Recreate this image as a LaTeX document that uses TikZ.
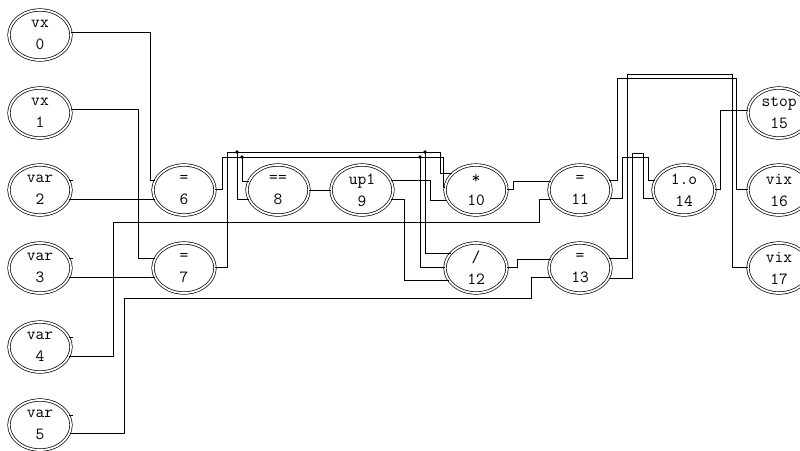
\documentclass[tikz,border=0pt]{standalone}
\usepackage{fontspec}
\usetikzlibrary{shapes.geometric,calc}
\begin{document}
\begin{tikzpicture}[x=1pt,y=-1pt,
  gnode/.style={ellipse, draw, line width=0.7pt, double, double distance=1.8pt,
    minimum width=62pt, minimum height=50pt, inner sep=0pt, align=center,
    font=\ttfamily\fontsize{17}{22}\selectfont},
  wire/.style={line width=0.75pt},
  jdot/.style={circle, fill, inner sep=0pt, minimum size=3.6pt}]
\useasboundingbox (0,0) rectangle (800,450);
% nodes
\node[gnode] (n0) at (40,35) {vx\\0};
\node[gnode] (n1) at (40,113) {vx\\1};
\node[gnode] (n2) at (40,190) {var\\2};
\node[gnode] (n3) at (40,268) {var\\3};
\node[gnode] (n4) at (40,347) {var\\4};
\node[gnode] (n5) at (40,425) {var\\5};
\node[gnode] (n6) at (184,190) {=\\6};
\node[gnode] (n7) at (184,268) {=\\7};
\node[gnode] (n8) at (278,190) {==\\8};
\node[gnode] (n9) at (362,190) {up1\\9};
\node[gnode] (n10) at (476,190) {*\\10};
\node[gnode] (n12) at (476,268) {/\\12};
\node[gnode] (n11) at (580,190) {=\\11};
\node[gnode] (n13) at (580,268) {=\\13};
\node[gnode] (n14) at (684,190) {1.o\\14};
\node[gnode] (n15) at (779,113) {stop\\15};
\node[gnode] (n16) at (779,190) {vix\\16};
\node[gnode] (n17) at (779,268) {vix\\17};
% stubs
\foreach \n in {n2,n3,n4,n5} \draw[wire] (\n.19) -- ++(4,0);
% wires
\draw[wire] (n0.4) -| (150,0 |- n6.161) -- (n6.161);
\draw[wire] (n1.6) -| (138,0 |- n7.161) -- (n7.161);
\draw[wire] (n2.-17) -- (n6.197);
\draw[wire] (n3.-17) -- (n7.197);
% bus A from node 6
\draw[wire] (n6.2) -| (222,157) -| (443,0 |- n10.176) -- (n10.176);
\coordinate (a1) at (242,157);
\coordinate (a2) at (420,157);
\draw[wire] (a1) |- (n8.163);
\draw[wire] (a2) |- (n12.178);
% bus B from node 7
\draw[wire] (n7.2) -| (227,152) -| (440,0 |- n10.146) -- (n10.146);
\coordinate (b1) at (237,152);
\coordinate (b2) at (425,152);
\draw[wire] (b1) |- (n8.197);
\draw[wire] (b2) |- (n12.149);
\node[jdot] (d1) at (a1) {};
\node[jdot] (d2) at (a2) {};
\node[jdot] (d3) at (b1) {};
\node[jdot] (d4) at (b2) {};
% middle
\draw[wire] (n8.0) -- (n9.180);
\draw[wire] (n9.19) -| (430,0 |- n10.199) -- (n10.199);
\draw[wire] (n9.-17) -| (404,0 |- n12.204) -- (n12.204);
\draw[wire] (n10.2) -| (513,0 |- n11.163) -- (n11.163);
\draw[wire] (n12.2) -| (517,0 |- n13.163) -- (n13.163);
\draw[wire] (n4.-17) -| (113,222) -| (539,0 |- n11.197) -- (n11.197);
\draw[wire] (n5.-15) -| (124,298) -| (531,0 |- n13.197) -- (n13.197);
% right part
\draw[wire] (n11.19) -| (617,78) -| (736,0 |- n16.178) -- (n16.178);
\draw[wire] (n11.-15) -| (622,157) -| (648,0 |- n14.161) -- (n14.161);
\draw[wire] (n13.19) -| (627,74) -| (732,0 |- n17.178) -- (n17.178);
\draw[wire] (n13.-19) -| (632,153) -| (643,0 |- n14.195) -- (n14.195);
\draw[wire] (n14.2) -| (720,0 |- n15.176) -- (n15.176);
\end{tikzpicture}
\end{document}
